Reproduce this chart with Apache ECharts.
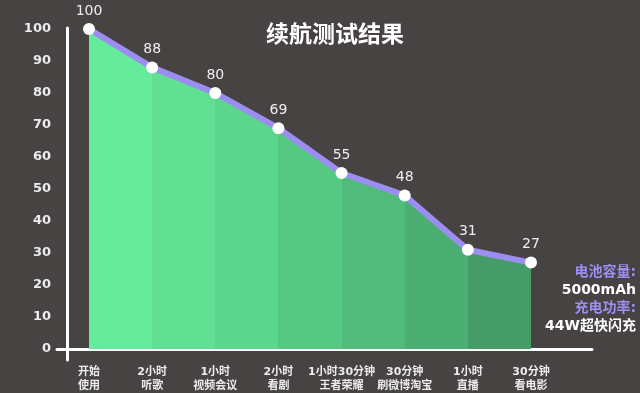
<!DOCTYPE html>
<html>
<head>
<meta charset="utf-8">
<style>html,body{margin:0;padding:0;background:#474343;}#c{width:640px;height:393px;}</style>
<script src="https://cdn.jsdelivr.net/npm/echarts@6/dist/echarts.min.js"></script>
</head>
<body>
<div id="c"></div>
<script>
var categories = ['开始\n使用', '2小时\n听歌', '1小时\n视频会议', '2小时\n看剧', '1小时30分钟\n王者荣耀', '30分钟\n刷微博淘宝', '1小时\n直播', '30分钟\n看电影'];
var batteryValues = [100, 88, 80, 69, 55, 48, 31, 27];
var yTicks = [0, 10, 20, 30, 40, 50, 60, 70, 80, 90, 100];
var segmentColors = ['#66ea9b', '#61e093', '#5bd68c', '#55c982', '#51bb7c', '#4bae73', '#469c69'];
var sideNotes = [['电池容量:', 'p'], ['5000mAh', 'w'], ['充电功率:', 'p'], ['44W超快闪充', 'w']];

var FONT = '"DejaVu Sans", "Noto Sans CJK SC", sans-serif';
var CJK = '"Noto Sans CJK SC", sans-serif';
var stops = [];
var n = segmentColors.length;
segmentColors.forEach(function (c, i) {
  stops.push({offset: i / n, color: c});
  stops.push({offset: (i + 1) / n, color: c});
});

var chart = echarts.init(document.getElementById('c'));
chart.setOption({
  backgroundColor: '#474343',
  animation: false,
  title: {
    text: '续航测试结果', left: 261, top: 17,
    textStyle: {color: '#ffffff', fontSize: 23, fontWeight: 'bold', fontFamily: CJK}
  },
  grid: [
    {left: 89, right: 109, top: 29, bottom: 44},
    {left: 57, right: 48, top: 29, bottom: 44},
    {left: 67, right: 48, top: 28, bottom: 33}
  ],
  xAxis: [
    {
      gridIndex: 0, type: 'category', data: categories, boundaryGap: false,
      axisLine: {show: false}, axisTick: {show: false}, splitLine: {show: false},
      axisLabel: {color: '#ececec', fontSize: 11, fontWeight: 'bold', fontFamily: FONT, margin: 16, lineHeight: 14, interval: 0}
    },
    {
      gridIndex: 1, type: 'value', min: 0, max: 1,
      axisLine: {show: true, lineStyle: {color: '#ffffff', width: 3}},
      axisTick: {show: false}, axisLabel: {show: false}, splitLine: {show: false}
    },
    {gridIndex: 2, type: 'value', min: 0, max: 1, show: false}
  ],
  yAxis: [
    {
      gridIndex: 0, type: 'value', min: yTicks[0], max: yTicks[yTicks.length - 1], interval: 10, offset: 22,
      axisLine: {show: false}, axisTick: {show: false}, splitLine: {show: false},
      axisLabel: {color: '#ececec', fontSize: 13, fontWeight: 'bold', fontFamily: FONT, margin: 16}
    },
    {gridIndex: 1, type: 'value', min: 0, max: 1, show: false},
    {
      gridIndex: 2, type: 'value', min: 0, max: 1,
      axisLine: {show: true, lineStyle: {color: '#ffffff', width: 3}},
      axisTick: {show: false}, axisLabel: {show: false}, splitLine: {show: false}
    }
  ],
  series: [
    {
      type: 'line', xAxisIndex: 0, yAxisIndex: 0, data: batteryValues,
      symbol: 'none', lineStyle: {width: 0},
      areaStyle: {opacity: 1, color: {type: 'linear', x: 0, y: 0, x2: 1, y2: 0, colorStops: stops}},
      z: 1, silent: true
    },
    {
      type: 'line', xAxisIndex: 0, yAxisIndex: 0, data: batteryValues,
      symbol: 'circle', symbolSize: 12,
      itemStyle: {color: '#ffffff', borderWidth: 0},
      lineStyle: {color: '#9b8ef0', width: 6},
      label: {show: true, position: 'top', distance: 5, color: '#eeeeee', fontSize: 14, fontFamily: FONT},
      z: 3
    }
  ],
  graphic: sideNotes.map(function (s, i) {
    return {
      type: 'text', right: 4, top: 265 + i * 18,
      style: {
        text: s[0], fill: s[1] === 'p' ? '#9d8ff2' : '#ffffff',
        font: 'bold 14px ' + FONT, textAlign: 'right'
      }
    };
  })
});
</script>
</body>
</html>
